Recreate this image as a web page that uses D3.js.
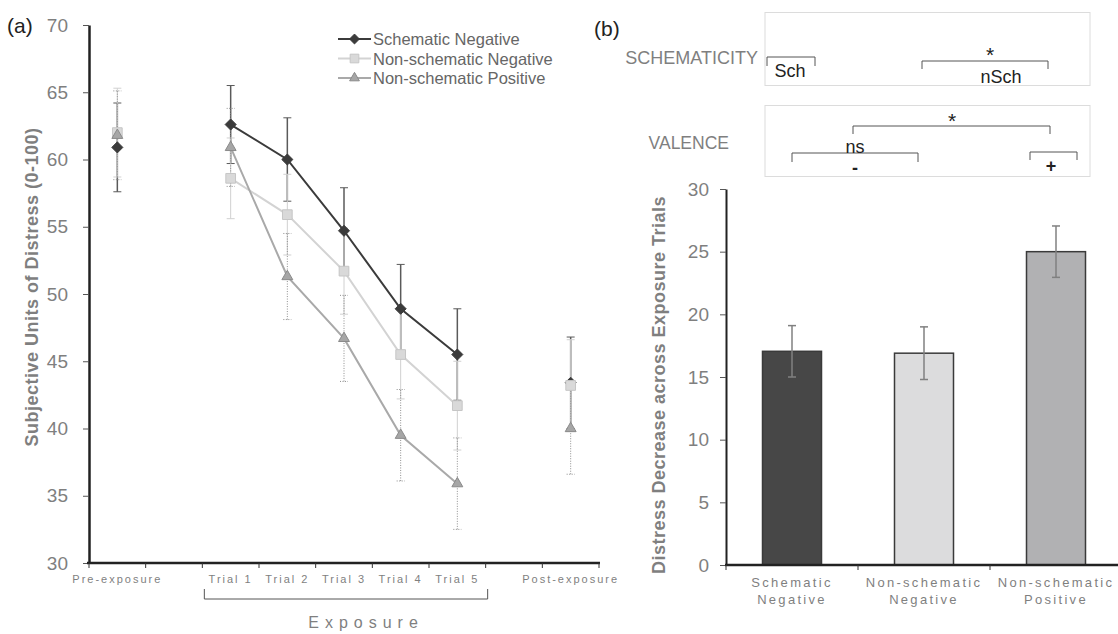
<!DOCTYPE html>
<html>
<head>
<meta charset="utf-8">
<script src="https://cdn.jsdelivr.net/npm/d3@7"></script>
<style>
  body { margin: 0; background: #fff; }
  svg { display: block; font-family: "Liberation Sans", Arial, sans-serif; }
</style>
</head>
<body>
<svg id="chart" width="1118" height="634"></svg>
<script>
// panel (a): distress over time points
const timepoints = ["Pre-exposure", "gap1", "Trial 1", "Trial 2", "Trial 3", "Trial 4", "Trial 5", "gap2", "Post-exposure"];
const yTicksA = [30, 35, 40, 45, 50, 55, 60, 65, 70];

const schematicNeg = [60.9, null, 62.6, 60.0, 54.7, 48.9, 45.5, null, 43.4];
const schematicNegErr = [3.3, null, 2.9, 3.1, 3.2, 3.3, 3.4, null, 3.4];
const nonSchematicNeg = [62.0, null, 58.6, 55.9, 51.7, 45.5, 41.7, null, 43.2];
const nonSchematicNegErr = [3.3, null, 3.0, 3.0, 3.2, 3.3, 3.3, null, 3.4];
const nonSchematicPos = [61.8, null, 60.9, 51.3, 46.7, 39.5, 35.9, null, 40.0];
const nonSchematicPosErr = [3.3, null, 2.9, 3.2, 3.2, 3.4, 3.4, null, 3.4];

// panel (b): decrease across exposure trials
const barGroups = ["Schematic Negative", "Non-schematic Negative", "Non-schematic Positive"];
const barValues = [17.05, 16.9, 25.0];
const barErrors = [2.05, 2.1, 2.05];
const yTicksB = [0, 5, 10, 15, 20, 25, 30];

const grey = "#7f7f7f";
const svg = d3.select("#chart");

// ---------- panel (a)
const xA = d3.scaleBand().domain(timepoints).range([89, 599]);
const yA = d3.scaleLinear().domain([30, 70]).range([563, 25]);

const series = [
  { label: "Schematic Negative", values: schematicNeg, errors: schematicNegErr,
    line: "#3b3b3b", fill: "#3b3b3b", stroke: "#3b3b3b", bar: "#5a5a5a", barWidth: 1.5, dash: null,
    symbol: d3.symbolDiamond2, size: 78 },
  { label: "Non-schematic Negative", values: nonSchematicNeg, errors: nonSchematicNegErr,
    line: "#d3d3d3", fill: "#d9d9d9", stroke: "#c6c6c6", bar: "#d0d0d0", barWidth: 1, dash: null,
    symbol: d3.symbolSquare2, size: 120 },
  { label: "Non-schematic Positive", values: nonSchematicPos, errors: nonSchematicPosErr,
    line: "#a9a9a9", fill: "#a6a6a6", stroke: "#8a8a8a", bar: "#8e8e8e", barWidth: 1, dash: "1,1.5",
    symbol: d3.symbolTriangle2, size: 85 },
];

const cx = (i) => xA(timepoints[i]) + xA.bandwidth() / 2;

// y axis
const axisA = svg.append("g").attr("transform", "translate(89,0)")
  .call(d3.axisLeft(yA).tickValues(yTicksA).tickSize(6).tickSizeOuter(0));
axisA.select(".domain").attr("stroke", "#222").attr("stroke-width", 2.5);
axisA.selectAll(".tick line").attr("stroke", "#555");
axisA.selectAll(".tick text").attr("fill", grey).attr("font-size", 19).attr("x", -21);

// x axis with ticks at category boundaries
const xAxisA = svg.append("g").attr("transform", "translate(0,563)");
xAxisA.append("line").attr("x1", 87).attr("x2", 600).attr("stroke", "#222").attr("stroke-width", 2.5);
xAxisA.selectAll("line.tk")
  .data(d3.range(timepoints.length + 1))
  .join("line")
  .attr("class", "tk")
  .attr("x1", (i) => xA.range()[0] + i * xA.bandwidth())
  .attr("x2", (i) => xA.range()[0] + i * xA.bandwidth())
  .attr("y1", 0).attr("y2", 5)
  .attr("stroke", "#333");
xAxisA.selectAll("text")
  .data(timepoints.filter((d) => !d.startsWith("gap")))
  .join("text")
  .attr("x", (d) => xA(d) + xA.bandwidth() / 2)
  .attr("y", 20)
  .attr("text-anchor", "middle")
  .attr("font-size", 11)
  .attr("letter-spacing", 2)
  .attr("fill", grey)
  .text((d) => d);

// bracket for exposure trials
const bx0 = xA("Trial 1") + 2, bx1 = xA("Trial 5") + xA.bandwidth() + 2;
svg.append("path")
  .attr("d", `M${bx0},589V599H${bx1}V589`)
  .attr("fill", "none").attr("stroke", "#555").attr("stroke-width", 1);
svg.append("text").attr("x", 366).attr("y", 628).attr("text-anchor", "middle")
  .attr("font-size", 16).attr("letter-spacing", 6).attr("fill", grey).text("Exposure");

svg.append("text")
  .attr("transform", "translate(38,287) rotate(-90)")
  .attr("text-anchor", "middle")
  .attr("font-size", 18).attr("font-weight", "bold").attr("letter-spacing", 0.5).attr("fill", grey)
  .text("Subjective Units of Distress (0-100)");

svg.append("text").attr("x", 7).attr("y", 33).attr("font-size", 21).attr("fill", "#222").text("(a)");

// error bars
series.forEach((s) => {
  const g = svg.append("g");
  s.values.forEach((v, i) => {
    if (v == null) return;
    const x = cx(i), lo = yA(v - s.errors[i]), hi = yA(v + s.errors[i]);
    g.append("line").attr("x1", x).attr("x2", x).attr("y1", lo).attr("y2", hi)
      .attr("stroke", s.bar).attr("stroke-width", s.barWidth).attr("stroke-dasharray", s.dash);
    [lo, hi].forEach((yy) => g.append("line").attr("x1", x - 4).attr("x2", x + 4).attr("y1", yy).attr("y2", yy)
      .attr("stroke", s.bar).attr("stroke-width", 1).attr("stroke-dasharray", s.dash));
  });
});

// lines across the trials only
const trialIdx = [2, 3, 4, 5, 6];
series.forEach((s) => {
  const line = d3.line().x((i) => cx(i)).y((i) => yA(s.values[i]));
  svg.append("path").datum(trialIdx).attr("fill", "none")
    .attr("stroke", s.line).attr("stroke-width", 2).attr("d", line);
});

// markers
series.forEach((s) => {
  const sym = d3.symbol().type(s.symbol).size(s.size);
  svg.append("g").selectAll("path")
    .data(s.values.map((v, i) => ({ v, i })).filter((d) => d.v != null))
    .join("path")
    .attr("transform", (d) => `translate(${cx(d.i)},${yA(d.v)})`)
    .attr("d", sym)
    .attr("fill", s.fill).attr("stroke", s.stroke).attr("stroke-width", 1);
});

// legend
const legend = svg.append("g").attr("transform", "translate(338,39)");
series.forEach((s, k) => {
  const g = legend.append("g").attr("transform", `translate(0,${k * 19.5})`);
  g.append("line").attr("x1", 0).attr("x2", 33).attr("stroke", s.line).attr("stroke-width", 2);
  g.append("path").attr("transform", "translate(16.5,0)")
    .attr("d", d3.symbol().type(s.symbol).size(s.size * 0.8))
    .attr("fill", s.fill).attr("stroke", s.stroke);
  g.append("text").attr("x", 35).attr("y", 6).attr("font-size", 16.5).attr("fill", "#666").text(s.label);
});

// ---------- panel (b)
const xB = d3.scaleBand().domain(barGroups).range([726, 1122]).paddingInner(0).paddingOuter(0);
const yB = d3.scaleLinear().domain([0, 30]).range([565, 189]);
const barW = 59;
const barFill = ["#474747", "#dcdcdd", "#b1b1b3"];

const axisB = svg.append("g").attr("transform", "translate(726,0)")
  .call(d3.axisLeft(yB).tickValues(yTicksB).tickSize(6).tickSizeOuter(0));
axisB.select(".domain").attr("stroke", "#222").attr("stroke-width", 2);
axisB.selectAll(".tick line").attr("stroke", "#555");
axisB.selectAll(".tick text").attr("fill", grey).attr("font-size", 19).attr("x", -17);

svg.selectAll("rect.bar")
  .data(barGroups)
  .join("rect")
  .attr("class", "bar")
  .attr("x", (d) => xB(d) + xB.bandwidth() / 2 - barW / 2)
  .attr("y", (d, i) => yB(barValues[i]))
  .attr("width", barW)
  .attr("height", (d, i) => yB(0) - yB(barValues[i]))
  .attr("fill", (d, i) => barFill[i])
  .attr("stroke", "#3a3a3a").attr("stroke-width", 1.5);

const xAxisB = svg.append("g").attr("transform", "translate(0,565)");
xAxisB.append("line").attr("x1", 725).attr("x2", 1118).attr("stroke", "#222").attr("stroke-width", 2.5);
xAxisB.selectAll("line.tk")
  .data(d3.range(barGroups.length))
  .join("line")
  .attr("class", "tk")
  .attr("x1", (i) => xB.range()[0] + i * xB.bandwidth())
  .attr("x2", (i) => xB.range()[0] + i * xB.bandwidth())
  .attr("y1", 0).attr("y2", 5).attr("stroke", "#333");
barGroups.forEach((d) => {
  const parts = d.split(" ");
  const t = xAxisB.append("text").attr("text-anchor", "middle").attr("font-size", 13)
    .attr("letter-spacing", 2.3).attr("fill", grey);
  parts.forEach((p, j) => t.append("tspan").attr("x", xB(d) + xB.bandwidth() / 2).attr("y", 22 + j * 17).text(p));
});

// error bars on bars
barGroups.forEach((d, i) => {
  const x = xB(d) + xB.bandwidth() / 2;
  const lo = yB(barValues[i] - barErrors[i]), hi = yB(barValues[i] + barErrors[i]);
  svg.append("line").attr("x1", x).attr("x2", x).attr("y1", lo).attr("y2", hi).attr("stroke", "#808080").attr("stroke-width", 1.5);
  [lo, hi].forEach((yy) => svg.append("line").attr("x1", x - 4).attr("x2", x + 4).attr("y1", yy).attr("y2", yy)
    .attr("stroke", "#808080").attr("stroke-width", 1.5));
});

svg.append("text")
  .attr("transform", "translate(665,385) rotate(-90)")
  .attr("text-anchor", "middle")
  .attr("font-size", 18).attr("font-weight", "bold").attr("letter-spacing", 0.5).attr("fill", grey)
  .text("Distress Decrease across Exposure Trials");

svg.append("text").attr("x", 594).attr("y", 36).attr("font-size", 21).attr("fill", "#222").text("(b)");

// significance boxes
const ann = svg.append("g");
ann.append("rect").attr("x", 765).attr("y", 12.5).attr("width", 325).attr("height", 73)
  .attr("fill", "none").attr("stroke", "#dcdcdc");
ann.append("rect").attr("x", 765).attr("y", 105.5).attr("width", 325).attr("height", 71)
  .attr("fill", "none").attr("stroke", "#dcdcdc");
ann.append("text").attr("x", 758).attr("y", 64).attr("text-anchor", "end").attr("font-size", 18).attr("fill", grey).text("SCHEMATICITY");
ann.append("text").attr("x", 729).attr("y", 149).attr("text-anchor", "end").attr("font-size", 17.5).attr("fill", grey).text("VALENCE");

const brackets = [
  [767, 815, 57, 66], [922, 1048, 61, 69], [853, 1050, 126, 134], [792, 918, 153, 162], [1030, 1077, 152, 160],
];
brackets.forEach(([x0, x1, yTop, yBot]) => {
  ann.append("path").attr("d", `M${x0},${yBot}V${yTop}H${x1}V${yBot}`)
    .attr("fill", "none").attr("stroke", "#555").attr("stroke-width", 1);
});
const labels = [
  ["Sch", 790, 77], ["nSch", 1001, 83], ["*", 990, 62], ["*", 952, 128], ["ns", 855, 153], ["-", 855, 174], ["+", 1051, 172],
];
labels.forEach(([t, x, y]) => {
  ann.append("text").attr("x", x).attr("y", y).attr("text-anchor", "middle")
    .attr("font-size", t === "*" ? 21 : 18).attr("font-weight", t === "-" || t === "+" ? "bold" : "normal")
    .attr("fill", "#222").text(t);
});
</script>
</body>
</html>
